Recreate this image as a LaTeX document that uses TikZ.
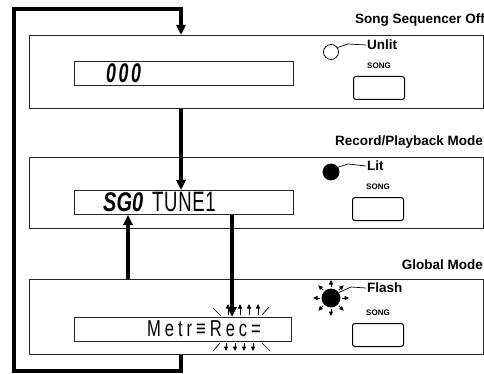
\documentclass[tikz,border=0pt]{standalone}
\usepackage{fontspec}
\setmainfont{Liberation Sans}
\setsansfont{Liberation Sans}
\usetikzlibrary{arrows.meta, positioning, calc}
\newcommand{\lcdsqueeze}[2][0.72]{\scalebox{#1}[1]{#2}}
\tikzset{
  panel/.style    = {draw=black!85, line width=0.9pt, anchor=north west,
                     inner sep=0pt, minimum width=454pt},
  lcd/.style      = {draw=black!85, line width=0.8pt, anchor=north west,
                     inner sep=0pt, minimum width=219pt, minimum height=24pt},
  songkey/.style  = {draw, line width=1pt, rounded corners=2.5pt, anchor=north west,
                     inner sep=0pt, minimum width=51pt, minimum height=23pt},
  keyname/.style  = {font=\bfseries\fontsize{8}{9}\selectfont, inner sep=0pt},
  modetitle/.style= {font=\bfseries\fontsize{13.5}{15}\selectfont, inner sep=0pt, anchor=east},
  ledtag/.style   = {font=\bfseries\fontsize{13.5}{15}\selectfont, inner sep=0pt, anchor=west},
  led/.style      = {circle, draw, line width=0.8pt, inner sep=0pt},
  segtext/.style  = {font=\bfseries\itshape\fontsize{27}{28}\selectfont,
                     inner sep=0pt, anchor=west},
  segwide/.style  = {font=\bfseries\itshape\fontsize{27}{28}\selectfont\addfontfeatures{LetterSpace=14},
                     inner sep=0pt, anchor=west},
  tunetext/.style = {font=\fontsize{28}{30}\selectfont\addfontfeatures{LetterSpace=4},
                     inner sep=0pt, anchor=west},
  metrtext/.style = {font=\fontsize{23}{25}\selectfont\addfontfeatures{LetterSpace=24},
                     inner sep=0pt, anchor=west},
  flow/.style     = {-{Triangle[length=10pt,width=9pt]}, line width=3.2pt},
  lead/.style     = {line width=0.7pt},
  ray/.style      = {line width=0.7pt},
  raytip/.style   = {-{Triangle[length=4.5pt,width=4pt]}, line width=0.8pt},
}
\begin{document}
\begin{tikzpicture}[x=1pt, y=-1pt]
  \useasboundingbox (0,0) rectangle (484,374);
  % the three panels
  \node[panel, minimum height=73pt] (p1) at (29,35) {};
  \node[panel, minimum height=71pt] (p2) at (29,157) {};
  \node[panel, minimum height=75pt] (p3) at (29,279) {};
  \node[modetitle] (m1) at (485,20) {Song Sequencer Off};
  \node[modetitle] (m2) at (483,142) {Record/Playback Mode};
  \node[modetitle] (m3) at (483,265) {Global Mode};

  % displays
  \node[lcd] (d1) at (74,61) {};
  \node[lcd] (d2) at (74,190) {};
  \node[lcd, minimum width=217pt] (d3) at (74,317) {};
  \node[segwide] (t1) at (106,73) {\lcdsqueeze[0.66]{000}};
  \node[segtext] (t2) at (103,202) {\lcdsqueeze[0.74]{SG0}};
  \node[tunetext] (t2b) at (152,202) {\lcdsqueeze[0.66]{TUNE1}};
  \node[metrtext] (t3) at (147,329) {\lcdsqueeze[0.72]{Metr≡Rec=}};

  % SONG keys
  \node[songkey] (b1) at (353,76) {};
  \node[songkey] (b2) at (352,197) {};
  \node[songkey] (b3) at (352,323) {};
  \node[keyname, above=7pt of b1] (k1) {SONG};
  \node[keyname, above=7pt of b2] (k2) {SONG};
  \node[keyname, above=7pt of b3] (k3) {SONG};

  % LEDs with their tags
  \node[led, minimum size=15pt] (l1) at (331,52) {};
  \node[led, fill=black, minimum size=16pt] (l2) at (331,172) {};
  \node[led, fill=black, minimum size=18pt] (l3) at (331,298) {};
  \node[ledtag] (u1) at (367,45) {Unlit};
  \node[ledtag] (u2) at (367,166) {Lit};
  \node[ledtag] (u3) at (367,288) {Flash};
  \draw[lead] (l1.35) -- (348,44) -- ([xshift=-1pt]u1.west);
  \draw[lead] (l2.35) -- (348,164) -- ([xshift=-1pt]u2.west);
  \draw[lead] (l3.35) -- (351,287) -- ([xshift=-1pt]u3.west);
  \foreach \a in {0,45,...,315}
    \draw[raytip] ($(l3.center)+(\a:11)$) -- ($(l3.center)+(\a:18)$);

  % flashing "Rec"
  \foreach \x in {228,240,249,258}
    \draw[raytip] (\x,315) -- (\x,304);
  \foreach \x in {226,235,244,253}
    \draw[raytip] (\x,343) -- (\x,351);
  \draw[ray] (213,308) -- (221,316);
  \draw[ray] (269,307) -- (262,315);
  \draw[ray] (213,351) -- (220,343);
  \draw[ray] (262,343) -- (270,351);

  % flow between the modes
  \coordinate (xa) at (181,0);
  \coordinate (xb) at (128,0);
  \coordinate (xc) at (232,0);
  \coordinate (lb) at (14,371);
  \coordinate (lt) at (14,9);
  \draw[flow] (p1.south -| xa) -- (d2.north -| xa);
  \draw[flow] (p3.north -| xb) -- (d2.south -| xb);
  \draw[flow] (d2.south -| xc) -- (d3.north -| xc);
  \draw[flow] (p3.south -| xa) |- (lb) -- (lt) -| (p1.north -| xa);
\end{tikzpicture}
\end{document}
